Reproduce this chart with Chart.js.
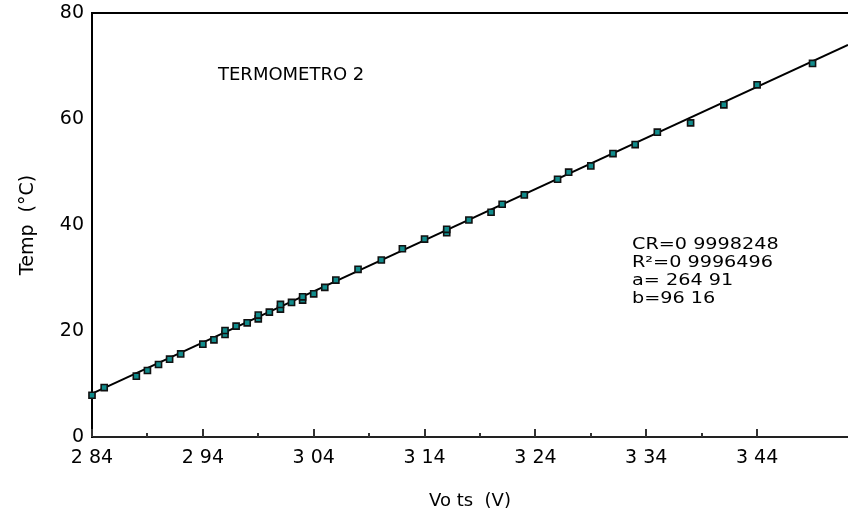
<!DOCTYPE html>
<html>
<head>
<meta charset="utf-8">
<script src="https://cdn.jsdelivr.net/npm/chart.js@4.4.1/dist/chart.umd.min.js"></script>
<style>
  html, body { margin: 0; padding: 0; background: #fff; }
  #wrap { width: 848px; height: 512px; }
</style>
</head>
<body>
<div id="wrap"><canvas id="chart"></canvas></div>
<script>
'use strict';

// ── DATA ───────────────────────────────────────────────────
const volts = [2.840, 2.851, 2.880, 2.890, 2.900, 2.910, 2.920, 2.940, 2.950, 2.960,
               2.960, 2.970, 2.980, 2.990, 2.990, 3.000, 3.010, 3.010, 3.020, 3.030,
               3.030, 3.040, 3.050, 3.060, 3.080, 3.101, 3.120, 3.140, 3.160, 3.160,
               3.180, 3.200, 3.210, 3.230, 3.260, 3.270, 3.290, 3.310, 3.330, 3.350,
               3.380, 3.410, 3.440, 3.490];
const temps = [7.88, 9.33, 11.47, 12.55, 13.68, 14.68, 15.68, 17.52, 18.33, 19.35,
               20.10, 20.92, 21.54, 22.30, 23.00, 23.56, 24.13, 25.02, 25.39, 25.83,
               26.45, 27.02, 28.23, 29.61, 31.63, 33.39, 35.52, 37.35, 38.55, 39.19,
               40.94, 42.40, 43.91, 45.67, 48.63, 49.96, 51.15, 53.47, 55.17, 57.52,
               59.27, 62.67, 66.45, 70.48];

// fitted line, two ends
const fitVolts = [2.84, 3.522];
const fitTemps = [8.2, 74.0];

const majorTicks  = [2.84, 2.94, 3.04, 3.14, 3.24, 3.34, 3.44];
const majorLabels = ['2 84', '2 94', '3 04', '3 14', '3 24', '3 34', '3 44'];
const minorTicks  = [2.89, 2.99, 3.09, 3.19, 3.29, 3.39];
const yTicks      = [0, 20, 40, 60, 80];

const chartTitle = 'TERMOMETRO 2';
const statLines  = ['CR=0 9998248', 'R\u00B2=0 9996496', 'a= 264 91', 'b=96 16'];
const xTitle = 'Vo ts  (V)';
const yTitle = 'Temp  (\u00B0C)';

const FONT = '"DejaVu Sans", "Liberation Sans", Arial, sans-serif';

// ── PLUGIN: frame, inner tick marks, notes ─────────────────
const decor = {
  id: 'decor',
  afterDraw(chart) {
    const { ctx, chartArea: a, scales: { x, y } } = chart;
    ctx.save();
    ctx.strokeStyle = '#000';
    ctx.lineWidth = 2;
    const yTop = y.getPixelForValue(80);
    ctx.beginPath();
    ctx.moveTo(a.left - 1, yTop);
    ctx.lineTo(a.right, yTop);
    ctx.stroke();

    // ticks point up into the plot
    ctx.strokeStyle = '#333';
    const yb = a.bottom;
    majorTicks.forEach(v => {
      const px = Math.round(x.getPixelForValue(v));
      ctx.beginPath(); ctx.moveTo(px, yb); ctx.lineTo(px, yb - 8); ctx.stroke();
    });
    minorTicks.forEach(v => {
      const px = Math.round(x.getPixelForValue(v));
      ctx.beginPath(); ctx.moveTo(px, yb); ctx.lineTo(px, yb - 4); ctx.stroke();
    });

    ctx.fillStyle = '#000';
    ctx.textBaseline = 'alphabetic';
    ctx.textAlign = 'left';
    ctx.font = '18px ' + FONT;
    ctx.fillText(chartTitle, 218, 80);

    ctx.font = '16px ' + FONT;
    const baselines = [248.5, 266.5, 284.5, 302.5];
    statLines.forEach((s, i) => {
      ctx.save();
      ctx.translate(632, baselines[i]);
      ctx.scale(1.2, 1);
      ctx.fillText(s, 0, 0);
      ctx.restore();
    });
    ctx.restore();
  }
};

// ── CHART ──────────────────────────────────────────────────
const ctx = document.getElementById('chart').getContext('2d');
new Chart(ctx, {
  data: {
    datasets: [
      {
        type: 'scatter',
        data: volts.map((v, i) => ({ x: v, y: temps[i] })),
        pointStyle: 'rect',
        pointRadius: 4.3,
        pointHoverRadius: 4.3,
        backgroundColor: '#118c8c',
        borderColor: '#111',
        borderWidth: 1.6,
        clip: false,
        order: 1
      },
      {
        type: 'line',
        data: fitVolts.map((v, i) => ({ x: v, y: fitTemps[i] })),
        borderColor: '#000',
        borderWidth: 2,
        pointRadius: 0,
        fill: false,
        clip: false,
        order: 2
      }
    ]
  },
  options: {
    responsive: true,
    maintainAspectRatio: false,
    animation: false,
    layout: { autoPadding: false, padding: { top: 13, right: 0, left: 0, bottom: 0 } },
    plugins: { legend: { display: false }, tooltip: { enabled: false } },
    scales: {
      x: {
        type: 'linear',
        min: 2.84,
        max: 3.522,
        grid: { display: false, drawTicks: false },
        border: { display: true, color: '#222', width: 2 },
        afterBuildTicks: s => { s.ticks = majorTicks.map(v => ({ value: v })); },
        afterFit: s => { s.height = 75; s.paddingRight = 0; s.paddingLeft = 0; },
        ticks: {
          color: '#000',
          padding: 10,
          maxRotation: 0,
          autoSkip: false,
          font: { family: FONT, size: 19 },
          callback: v => {
            const i = majorTicks.findIndex(t => Math.abs(t - v) < 1e-6);
            return i >= 0 ? majorLabels[i] : '';
          }
        },
        title: {
          display: true,
          text: xTitle,
          color: '#000',
          font: { family: FONT, size: 18 },
          padding: { top: 8, bottom: 0 }
        }
      },
      y: {
        type: 'linear',
        min: 0,
        max: 80,
        grid: { display: false, drawTicks: false },
        border: { display: true, color: '#000', width: 2 },
        afterBuildTicks: s => { s.ticks = yTicks.map(v => ({ value: v })); },
        afterFit: s => { s.width = 92; s.paddingTop = 0; s.paddingBottom = 0; },
        ticks: {
          color: '#000',
          padding: 8,
          font: { family: FONT, size: 19 }
        },
        title: {
          display: true,
          text: yTitle,
          color: '#000',
          font: { family: FONT, size: 19 },
          padding: { top: 17, bottom: 10 }
        }
      }
    }
  },
  plugins: [decor]
});
</script>
</body>
</html>
